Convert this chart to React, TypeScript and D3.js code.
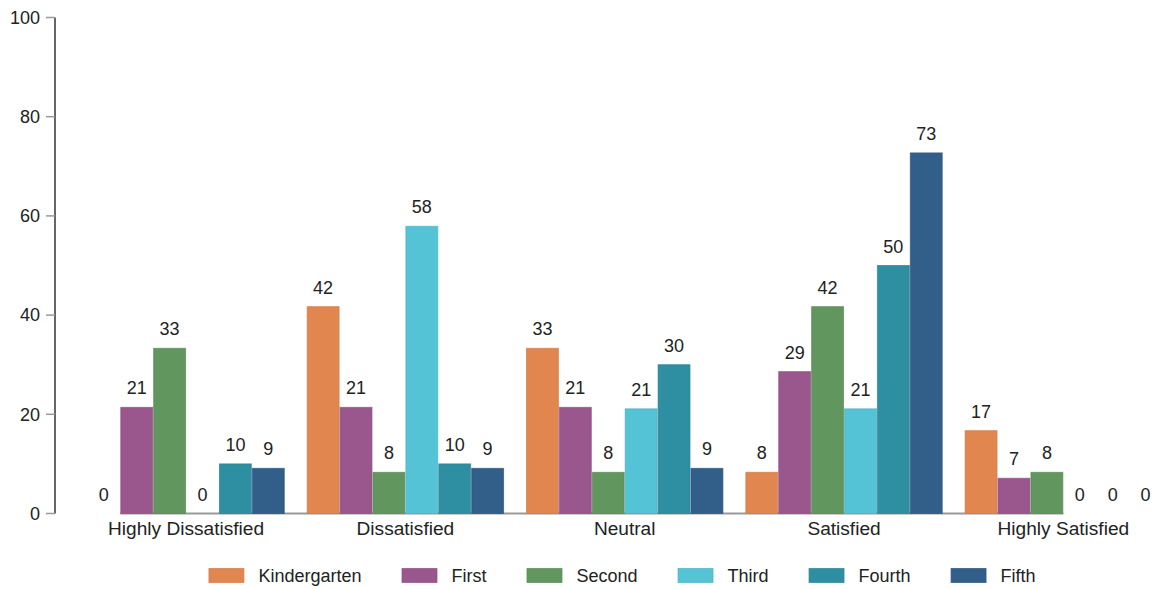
import React from "react";
import * as d3 from "d3";

// Survey responses by grade level (percent of respondents)
const categories = ["Highly Dissatisfied", "Dissatisfied", "Neutral", "Satisfied", "Highly Satisfied"];
const grades = ["Kindergarten", "First", "Second", "Third", "Fourth", "Fifth"];

const kindergarten = [0, 41.7, 33.3, 8.3, 16.7];
const first = [21.4, 21.4, 21.4, 28.6, 7.1];
const second = [33.3, 8.3, 8.3, 41.7, 8.3];
const third = [0, 57.9, 21.1, 21.1, 0];
const fourth = [10, 10, 30, 50, 0];
const fifth = [9.1, 9.1, 9.1, 72.7, 0];

const seriesValues = [kindergarten, first, second, third, fourth, fifth];
const gradeColors = ["#E1864F", "#9A578D", "#62965F", "#54C3D6", "#2F8FA2", "#325E8A"];
const yTicks = [0, 20, 40, 60, 80, 100];

const W = 1158;
const H = 589;
const FONT = "'Liberation Sans', Arial, sans-serif";

function textWidth(text: string, size: number): number {
  const canvas = document.createElement("canvas");
  const ctx = canvas.getContext("2d");
  if (!ctx) return text.length * size * 0.55;
  ctx.font = `${size}px ${FONT}`;
  return ctx.measureText(text).width;
}

export default function App() {
  const y = d3.scaleLinear().domain([0, 100]).range([513.5, 17.5]);
  const x0 = d3
    .scaleBand<string>()
    .domain(categories)
    .range([76.4, 1173])
    .paddingInner(0.1)
    .paddingOuter(0.05);
  const x1 = d3.scaleBand<string>().domain(grades).range([0, x0.bandwidth()]);
  const color = d3.scaleOrdinal<string, string>().domain(grades).range(gradeColors);
  const fmt = d3.format(".0f");

  const bars = categories.flatMap((cat, ci) =>
    grades.map((g, gi) => ({ cat, grade: g, value: seriesValues[gi][ci] }))
  );

  // baseline spans from the first to the last non-empty bar
  const nonZero = bars.filter((b) => b.value > 0);
  const baseX0 = d3.min(nonZero, (b) => (x0(b.cat) as number) + (x1(b.grade) as number)) as number;
  const baseX1 = d3.max(
    nonZero,
    (b) => (x0(b.cat) as number) + (x1(b.grade) as number) + x1.bandwidth()
  ) as number;

  // legend layout
  const legendSize = 18;
  const swatchW = 36;
  const swatchH = 15;
  const swatchGap = 14;
  const itemGap = 40;
  const widths = grades.map((g) => textWidth(g, legendSize));
  const itemW = widths.map((w) => swatchW + swatchGap + w);
  const totalW = d3.sum(itemW) + itemGap * (grades.length - 1);
  const legendStart = 622 - totalW / 2;
  const offsets = itemW.map((_, i) => legendStart + d3.sum(itemW.slice(0, i)) + itemGap * i);

  return (
    <svg
      width={W}
      height={H}
      style={{ position: "absolute", left: 0, top: 0, background: "#fff" }}
      fontFamily={FONT}
    >
      {/* baseline */}
      <line x1={baseX0} x2={baseX1} y1={y(0)} y2={y(0)} stroke="#9a9a9a" strokeWidth={2} />

      {/* bars */}
      <g>
        {bars.map((b) => {
          const bx = (x0(b.cat) as number) + (x1(b.grade) as number);
          const c = color(b.grade);
          return b.value > 0 ? (
            <rect
              key={b.cat + b.grade}
              x={bx + 0.5}
              y={y(b.value)}
              width={x1.bandwidth() - 1}
              height={y(0) - y(b.value)}
              fill={c}
              stroke={d3.color(c)!.darker(0.25).toString()}
              strokeWidth={1}
              strokeOpacity={0.7}
            />
          ) : null;
        })}
      </g>

      {/* value labels */}
      <g fontSize={18} fill="#222" textAnchor="middle">
        {bars.map((b) => {
          const bx = (x0(b.cat) as number) + (x1(b.grade) as number) + x1.bandwidth() / 2;
          return (
            <text key={"l" + b.cat + b.grade} x={bx} y={y(b.value) - 13}>
              {fmt(b.value)}
            </text>
          );
        })}
      </g>

      {/* y axis */}
      <g>
        <line x1={55} x2={55} y1={y(100)} y2={y(0)} stroke="#333" strokeWidth={1.5} />
        {yTicks.map((t) => (
          <g key={"t" + t}>
            <line x1={46} x2={55} y1={y(t)} y2={y(t)} stroke="#999" strokeWidth={1.5} />
            <text x={40} y={y(t)} dy="0.35em" textAnchor="end" fontSize={18} fill="#222">
              {t}
            </text>
          </g>
        ))}
      </g>

      {/* category labels */}
      <g fontSize={19.1} fill="#222" textAnchor="middle">
        {categories.map((c) => (
          <text key={"c" + c} x={(x0(c) as number) + x0.bandwidth() / 2} y={535}>
            {c}
          </text>
        ))}
      </g>

      {/* legend */}
      <g>
        {grades.map((g, i) => (
          <g key={"lg" + g} transform={`translate(${offsets[i]},568)`}>
            <rect
              x={0.5}
              y={0.5}
              width={swatchW - 1}
              height={swatchH - 1}
              fill={color(g)}
              stroke={d3.color(color(g))!.darker(0.25).toString()}
              strokeOpacity={0.7}
            />
            <text x={swatchW + swatchGap} y={14} fontSize={legendSize} fill="#222">
              {g}
            </text>
          </g>
        ))}
      </g>
    </svg>
  );
}
